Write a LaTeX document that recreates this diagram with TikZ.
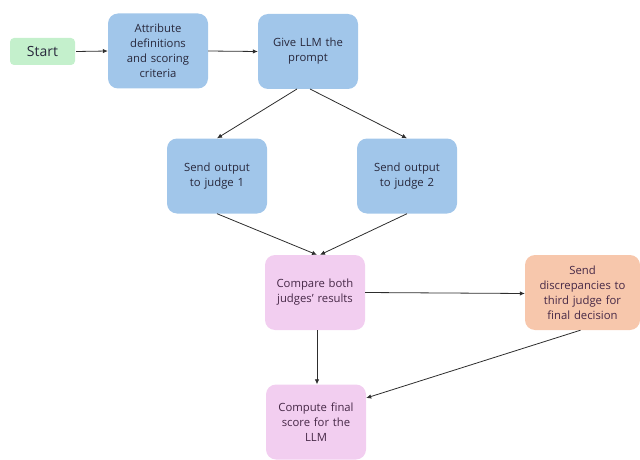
\documentclass[tikz,border=0pt]{standalone}
\usepackage{fontspec}
\setmainfont{Open Sans}
\usetikzlibrary{arrows.meta}
\definecolor{bluebox}{RGB}{161,198,234}
\definecolor{pinkbox}{RGB}{242,206,240}
\definecolor{orangebox}{RGB}{247,199,172}
\definecolor{greenbox}{RGB}{196,240,204}
\definecolor{txt}{RGB}{40,40,60}
\definecolor{ptxt}{RGB}{70,40,70}
\definecolor{line}{RGB}{45,45,45}
\tikzset{
  box/.style={rounded corners=10pt, minimum width=100pt, minimum height=75pt, align=center, text width=96pt, font=\fontsize{11.3}{15}\selectfont, inner sep=0pt},
  bluestep/.style={box, fill=bluebox, text=txt},
  pinkstep/.style={box, fill=pinkbox, text=ptxt},
  orangestep/.style={box, fill=orangebox, text=ptxt, minimum width=115pt, text width=110pt},
  startbox/.style={rounded corners=4pt, fill=greenbox, minimum width=65pt, minimum height=27pt, font=\fontsize{14}{16}\selectfont, text=txt},
  conn/.style={draw=line, line width=0.8pt, -{Latex[length=5pt,width=4.5pt]}}
}
\begin{document}
\begin{tikzpicture}[x=1pt,y=-1pt]
\useasboundingbox (0,0) rectangle (640,460);
\node[startbox] (start) at (42.5,51.5) {Start};
\node[bluestep] (attr) at (158,51) {Attribute\\definitions\\and scoring\\criteria};
\node[bluestep] (give) at (308,51.5) {Give LLM the\\prompt};
\node[bluestep] (j1) at (217,176) {Send output\\to judge 1};
\node[bluestep] (j2) at (407,176) {Send output\\to judge 2};
\node[pinkstep] (cmp) at (315,292.5) {Compare both\\judges' results};
\node[orangestep] (disc) at (582.5,292.5) {Send\\discrepancies to\\third judge for\\final decision};
\node[pinkstep] (fin) at (316,422) {Compute final\\score for the\\LLM};
\coordinate (g1) at (297,89);
\coordinate (g2) at (310,89);
\draw[conn] (start.east) ++(1,0) -- (attr.west);
\draw[conn] (attr.east) -- (give.west);
\draw[conn] (g1) -- (j1.north);
\draw[conn] (g2) -- (j2.north);
\draw[conn] (j1.south) -- ([xshift=2pt]cmp.north);
\draw[conn] (j2.south) -- ([xshift=5pt]cmp.north);
\draw[conn] (cmp.east) -- ([yshift=-1pt]disc.west);
\draw[conn] ([xshift=2pt]cmp.south) -- ([xshift=1pt]fin.north);
\draw[conn] ([xshift=-2pt]disc.south) -- ([yshift=24pt]fin.east);
\end{tikzpicture}
\end{document}
